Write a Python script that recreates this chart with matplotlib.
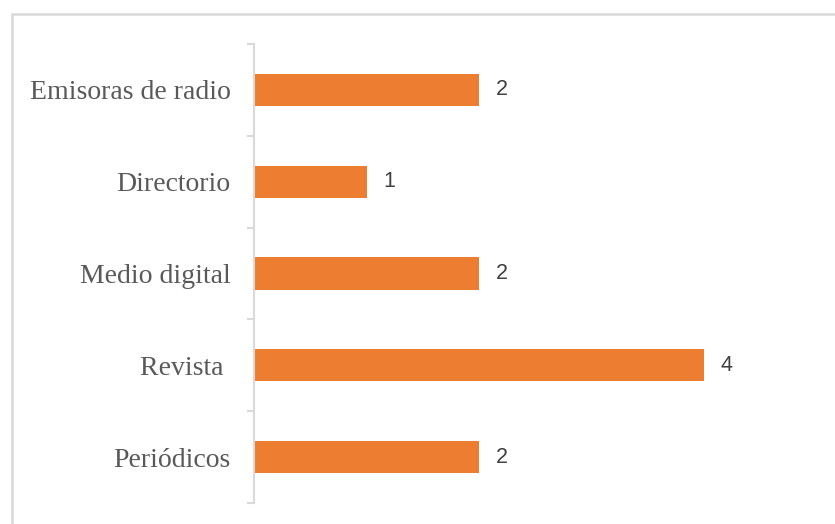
import matplotlib.pyplot as plt
import matplotlib.patches as patches
import numpy as np

# categories bottom to top
categories = ["Periódicos", "Revista ", "Medio digital", "Directorio", "Emisoras de radio"]
values = [2, 4, 2, 1, 2]

bar_color = "#ED7D31"
grid_gray = "#D9D9D9"

fig = plt.figure(figsize=(8.35, 5.24), dpi=100)
ax = fig.add_axes([254 / 835, 21 / 524, 562.5 / 835, 459 / 524])

y = np.arange(len(categories))
bars = ax.barh(y, values, height=0.35, color=bar_color, zorder=2)

for yy, v in zip(y, values):
    ax.text(v + 0.15, yy, str(v), va="center", ha="left",
            fontsize=15.5, color="#404040", family="Liberation Sans")

ax.set_xlim(0, 5)
ax.set_ylim(-0.5, len(categories) - 0.5)
ax.set_yticks(y)
ax.set_yticklabels(categories, family="Liberation Serif", fontsize=20, color="#595959")
ax.tick_params(axis="y", which="major", length=0, pad=17)
ax.set_yticks(np.arange(-0.5, len(categories)), minor=True)
ax.tick_params(axis="y", which="minor", length=5, width=1.5, color=grid_gray)
ax.set_xticks([])

for s in ["top", "right", "bottom"]:
    ax.spines[s].set_visible(False)
ax.spines["left"].set_color(grid_gray)
ax.spines["left"].set_linewidth(1.5)

# outer chart border (cropped at right and bottom)
border = patches.Rectangle((12 / 835, -0.1), 1.2, (524 - 14) / 524 + 0.1,
                           transform=fig.transFigure, fill=False,
                           edgecolor=grid_gray, linewidth=1.8)
fig.patches.append(border)

fig.savefig("out.png", dpi=100)
